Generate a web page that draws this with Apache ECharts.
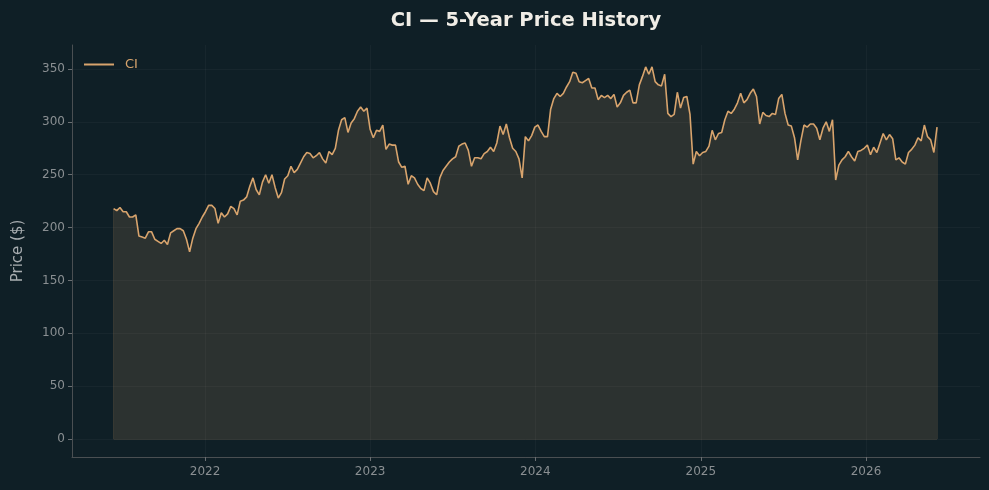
<!DOCTYPE html>
<html>
<head>
<meta charset="utf-8">
<script src="https://cdn.jsdelivr.net/npm/echarts@6/dist/echarts.min.js"></script>
<style>
html,body{margin:0;padding:0;background:#0f1f26;}
#chart{width:989px;height:490px;}
</style>
</head>
<body>
<div id="chart"></div>
<script>
// Weekly closing prices, first week starting 2021-06-13
const startDate = [2021, 5, 13];
const stepDays = 7;
const prices = [
218,216,219,215,215,210,210,212,192,191,190,196,196,189,187,185,188,184,195,197,
199,199,197,189,177,190,199,204,210,215,221,221,218,204,214,210,213,220,218,212,
225,226,229,239,247,236,231,243,250,242,250,238,228,233,246,249,258,252,255,261,
267,271,270,266,268,271,265,261,272,269,275,292,302,304,290,299,303,310,314,310,
313,293,285,292,291,297,274,279,278,278,262,257,258,241,249,247,241,237,235,247,
242,234,231,247,254,258,262,265,267,277,279,280,273,258,266,266,265,270,272,276,
272,280,296,288,298,285,275,272,265,247,286,282,287,295,297,291,286,286,312,322,
327,324,327,333,338,347,346,338,337,339,341,332,332,321,325,323,325,322,326,314,
318,325,328,330,318,318,335,343,352,345,352,338,335,334,345,308,305,307,328,313,
323,324,307,260,272,268,271,272,277,292,283,289,290,302,310,308,312,318,327,318,
321,327,331,324,298,309,306,305,308,307,322,326,308,297,296,285,264,282,297,295,
298,298,294,283,294,300,291,302,245,259,264,267,272,267,263,272,273,275,278,269,
276,271,280,289,283,288,284,264,266,262,260,271,274,278,285,282,297,286,283,271,
295
];
const yTicks = [0, 50, 100, 150, 200, 250, 300, 350];
const xTickYears = [2022, 2023, 2024, 2025, 2026];
const seriesName = 'CI';
const titleText = 'CI — 5-Year Price History';
const yAxisName = 'Price ($)';

const DAY = 86400000;
const t0 = Date.UTC(startDate[0], startDate[1], startDate[2]);
const seriesData = prices.map((v, i) => [t0 + i * stepDays * DAY, v]);
const tEnd = seriesData[seriesData.length - 1][0];
const xTickValues = xTickYears.map(y => Date.UTC(y, 0, 1));

const lineColor = '#d8a46d';
const chart = echarts.init(document.getElementById('chart'), null, {renderer: 'canvas'});
chart.setOption({
  backgroundColor: '#0f1f26',
  animation: false,
  textStyle: {fontFamily: 'DejaVu Sans'},
  title: {
    text: titleText,
    left: 526, top: 11, padding: 0, textAlign: 'center',
    textStyle: {color: '#f0ede6', fontSize: 19.5, fontWeight: 'bold', fontFamily: 'DejaVu Sans'}
  },
  legend: {
    left: 84, top: 58, padding: 0,
    icon: 'rect', itemWidth: 30, itemHeight: 2, itemGap: 10,
    textStyle: {color: lineColor, fontSize: 13, fontFamily: 'DejaVu Sans', padding: [0, 0, 0, 6]},
    data: [seriesName]
  },
  grid: {left: 72, right: 9, top: 45, bottom: 33, containLabel: false, outerBoundsMode: 'none'},
  xAxis: {
    type: 'value',
    min: Date.UTC(2021, 2, 13),
    max: Date.UTC(2026, 8, 10),
    axisLine: {show: true, onZero: false, lineStyle: {color: '#4a4f52', width: 1}},
    axisTick: {show: true, length: 4, lineStyle: {color: '#6a6f72'}, customValues: xTickValues},
    axisLabel: {
      color: '#8a8f92', fontSize: 12, margin: 9,
      customValues: xTickValues,
      formatter: v => String(new Date(v).getUTCFullYear())
    },
    splitLine: {show: true, lineStyle: {color: 'rgba(255,255,255,0.035)', width: 1}}
  },
  yAxis: {
    type: 'value',
    min: -17, max: 372.7,
    name: yAxisName,
    nameLocation: 'middle',
    nameGap: 46,
    nameTextStyle: {color: '#a8adb0', fontSize: 15, fontFamily: 'DejaVu Sans'},
    axisLine: {show: true, onZero: false, lineStyle: {color: '#4a4f52', width: 1}},
    axisTick: {show: true, length: 4, lineStyle: {color: '#6a6f72'}, customValues: yTicks},
    axisLabel: {color: '#8a8f92', fontSize: 12, margin: 7, customValues: yTicks},
    splitLine: {show: true, lineStyle: {color: 'rgba(255,255,255,0.035)', width: 1}}
  },
  series: [{
    name: seriesName,
    type: 'line',
    data: seriesData,
    showSymbol: false,
    symbol: 'none',
    lineStyle: {color: lineColor, width: 1.6},
    itemStyle: {color: lineColor},
    areaStyle: {color: lineColor, opacity: 0.15, origin: 'auto'},
    markLine: {
      silent: true,
      symbol: 'none',
      label: {show: false},
      lineStyle: {color: lineColor, opacity: 0.15, width: 1, type: 'solid'},
      data: [
        [{coord: [t0, 0]}, {coord: [tEnd, 0]}],
        [{coord: [t0, 0]}, {coord: [t0, prices[0]]}],
        [{coord: [tEnd, 0]}, {coord: [tEnd, prices[prices.length - 1]]}]
      ]
    }
  }]
});
</script>
</body>
</html>
